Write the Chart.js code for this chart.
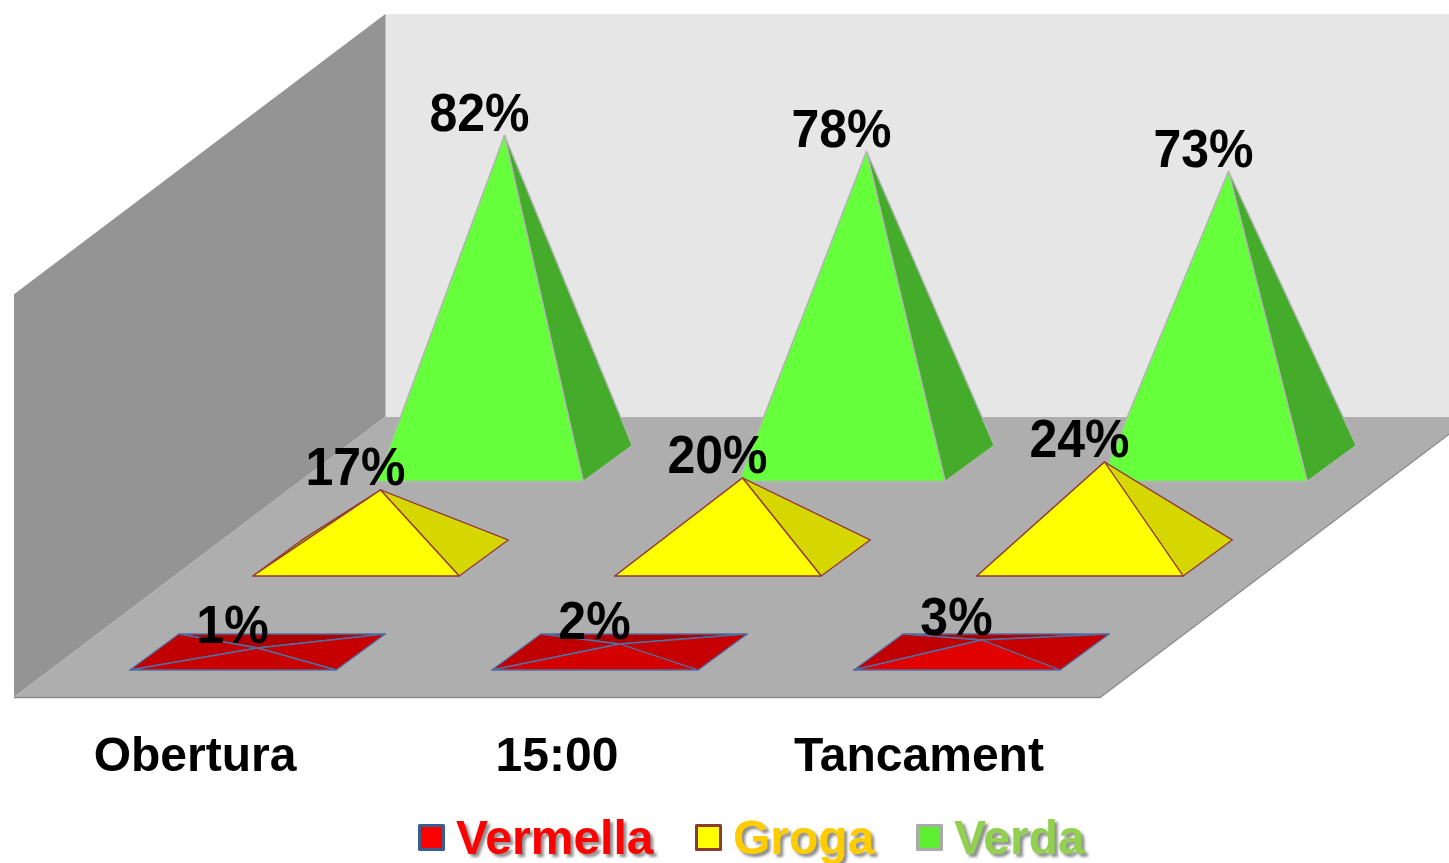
<!DOCTYPE html>
<html>
<head>
<meta charset="utf-8">
<title>Obertura / 15:00 / Tancament</title>
<script src="https://cdn.jsdelivr.net/npm/chart.js@4/dist/chart.umd.min.js"></script>
<style>
    html, body { margin: 0; padding: 0; background: #fff; }
    canvas { display: block; }
</style>
</head>
<body>
<canvas id="chart" width="1449" height="863"></canvas>
<script>
// Data
const categories = ['Obertura', '15:00', 'Tancament'];
const vermella = [1, 2, 3];
const groga = [17, 20, 24];
const verda = [82, 78, 73];

// Oblique projection of the floor, in pixels
const floorDepth = { x: 371, y: 280 };
const baseDepth = { x: 49, y: 36 };
const wallTop = 100.7;
const rowOffset = {
    Vermella: { x: 38, y: 27 },
    Groga: { x: 161, y: 121 },
    Verda: { x: 285, y: 215.5 }
};

const FONT = '"Liberation Sans", Arial, sans-serif';

function polygon(ctx, points, fill, stroke) {
    ctx.beginPath();
    points.forEach((p, i) => i ? ctx.lineTo(p.x, p.y) : ctx.moveTo(p.x, p.y));
    ctx.closePath();
    ctx.fillStyle = fill;
    ctx.fill();
    if (stroke) {
        ctx.strokeStyle = stroke;
        ctx.lineWidth = 1.3;
        ctx.lineJoin = 'round';
        ctx.stroke();
    }
}

// Walls and floor come from the chart area and the y scale
const roomPlugin = {
    id: 'room',
    beforeDatasetsDraw(chart) {
        const { ctx, chartArea: a, scales: { y } } = chart;
        const top = y.getPixelForValue(wallTop);
        const dx = floorDepth.x, dy = floorDepth.y;

        polygon(ctx, [
            { x: a.left + dx, y: top - dy }, { x: chart.width, y: top - dy },
            { x: chart.width, y: a.bottom - dy }, { x: a.left + dx, y: a.bottom - dy }
        ], '#e6e6e6');
        polygon(ctx, [
            { x: a.left, y: top }, { x: a.left + dx, y: top - dy },
            { x: a.left + dx, y: a.bottom - dy }, { x: a.left, y: a.bottom }
        ], '#949494');
        polygon(ctx, [
            { x: a.left, y: a.bottom }, { x: a.right, y: a.bottom },
            { x: a.right + dx, y: a.bottom - dy }, { x: a.left + dx, y: a.bottom - dy }
        ], '#aeaeae');

        ctx.strokeStyle = '#8a8a8a';
        ctx.lineWidth = 1.5;
        ctx.beginPath();
        ctx.moveTo(a.left, a.bottom + 0.5);
        ctx.lineTo(a.right, a.bottom + 0.5);
        ctx.lineTo(a.right + dx, a.bottom - dy + 0.5);
        ctx.stroke();
        ctx.strokeStyle = '#bcbcbc';
        ctx.lineWidth = 1;
        ctx.beginPath();
        ctx.moveTo(a.left + dx + 0.5, top - dy);
        ctx.lineTo(a.left + dx + 0.5, a.bottom - dy);
        ctx.stroke();
    }
};

// Each bar element is redrawn as a pyramid standing on the floor
const pyramidPlugin = {
    id: 'pyramid',
    beforeDatasetDraw(chart, args) {
        const { ctx } = chart;
        const ds = chart.data.datasets[args.index];
        const row = rowOffset[ds.label];

        args.meta.data.forEach((bar, i) => {
            const half = bar.width / 2;
            const y0 = bar.base - row.y;
            const x0 = bar.x + row.x;
            const fl = { x: x0 - half, y: y0 };
            const fr = { x: x0 + half, y: y0 };
            const br = { x: fr.x + baseDepth.x, y: y0 - baseDepth.y };
            const bl = { x: fl.x + baseDepth.x, y: y0 - baseDepth.y };
            const apex = {
                x: x0 + baseDepth.x / 2,
                y: y0 - baseDepth.y / 2 - (bar.base - bar.y)
            };
            const f = ds.faces;
            const front = Array.isArray(f.front) ? f.front[i] : f.front;

            polygon(ctx, [bl, br, apex], f.back, ds.edge);
            polygon(ctx, [fl, bl, apex], f.left, ds.edge);
            polygon(ctx, [fr, br, apex], f.right, ds.edge);
            polygon(ctx, [fl, fr, apex], front, ds.edge);

            // the value labels are a little taller than the plain font
            ctx.save();
            ctx.translate(apex.x - 25, apex.y - 5);
            ctx.scale(1, 1.07);
            ctx.fillStyle = '#000';
            ctx.font = 'bold 50px ' + FONT;
            ctx.textAlign = 'center';
            ctx.textBaseline = 'alphabetic';
            ctx.fillText(ds.data[i] + '%', 0, 0);
            ctx.restore();
        });
        return false;
    }
};

// Legend with coloured names and a soft shadow on the text
const legendPlugin = {
    id: 'seriesLegend',
    afterDraw(chart) {
        const { ctx } = chart;
        chart.data.datasets.forEach(ds => {
            const k = ds.legend;
            ctx.save();
            ctx.fillStyle = k.box;
            ctx.fillRect(k.x + 1.5, 825.5, 24, 24);
            ctx.strokeStyle = k.border;
            ctx.lineWidth = 3;
            ctx.strokeRect(k.x + 1.5, 825.5, 24, 24);

            ctx.shadowColor = 'rgba(0, 0, 0, 0.45)';
            ctx.shadowOffsetX = 3;
            ctx.shadowOffsetY = 3;
            ctx.shadowBlur = 3;
            ctx.fillStyle = k.text;
            ctx.font = 'bold 48px ' + FONT;
            ctx.textAlign = 'left';
            ctx.textBaseline = 'alphabetic';
            ctx.fillText(ds.label, k.x + 38, 854);
            ctx.restore();
        });
    }
};

const common = { grouped: false, categoryPercentage: 1, barPercentage: 0.57 };

new Chart(document.getElementById('chart'), {
    type: 'bar',
    plugins: [roomPlugin, pyramidPlugin, legendPlugin],
    data: {
        labels: categories,
        datasets: [
            {
                ...common, label: 'Vermella', data: vermella, backgroundColor: '#ff0000', edge: '#4f6fa3',
                faces: { front: ['#c80000', '#d40000', '#e00000'], right: '#c60000', left: '#c00000', back: '#ae0000' },
                legend: { x: 418, box: '#ff0000', border: '#3a5f8f', text: '#ff0000' }
            },
            {
                ...common, label: 'Groga', data: groga, backgroundColor: '#ffff00', edge: '#93393a',
                faces: { front: '#ffff00', right: '#d6d600', left: '#a8a000', back: '#a8a000' },
                legend: { x: 695, box: '#ffff00', border: '#8b3a2f', text: '#ffcc00' }
            },
            {
                ...common, label: 'Verda', data: verda, backgroundColor: '#66ff3c', edge: '#b4b4b4',
                faces: { front: '#66ff3c', right: '#44ac2a', left: '#44ac2a', back: '#44ac2a' },
                legend: { x: 916, box: '#5cef2f', border: '#aaaaaa', text: '#92d050' }
            }
        ]
    },
    options: {
        responsive: false,
        animation: false,
        events: [],
        layout: { padding: { left: 14, right: 349, top: 297, bottom: 0 } },
        plugins: { legend: { display: false }, tooltip: { enabled: false } },
        scales: {
            x: {
                grid: { display: false, drawTicks: false },
                border: { display: false },
                afterFit: scale => { scale.height = 166; },
                ticks: {
                    padding: 32,
                    color: '#000',
                    autoSkip: false,
                    maxRotation: 0,
                    font: { family: FONT, size: 48, weight: 'bold' }
                }
            },
            y: { display: false, min: 0, max: 100 }
        }
    }
});
</script>
</body>
</html>
